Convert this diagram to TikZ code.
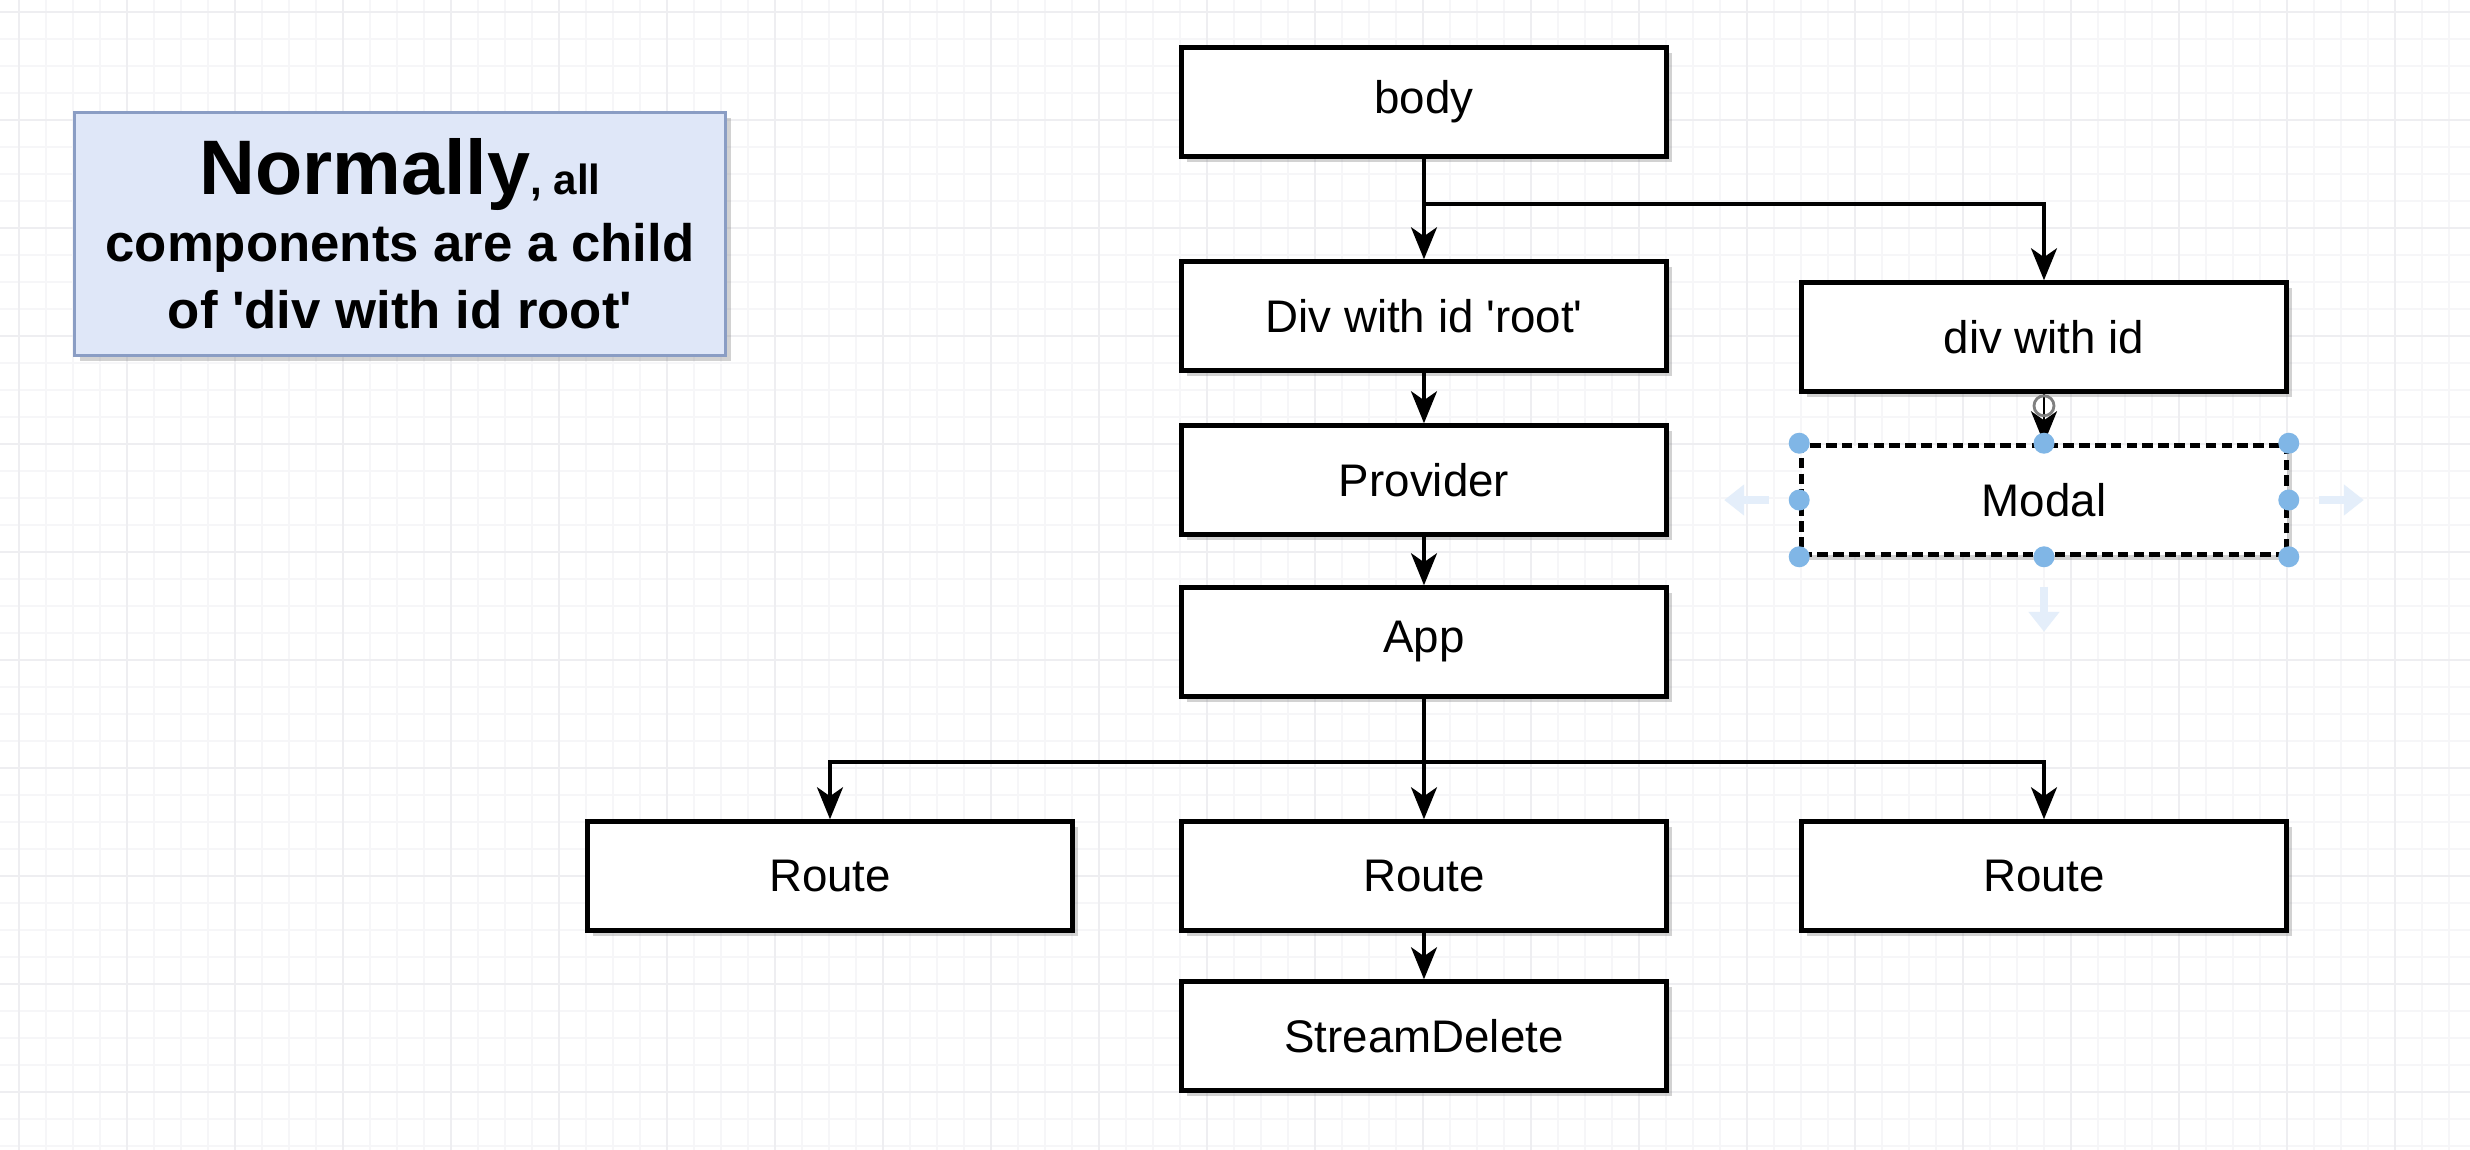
\documentclass[tikz,border=0pt]{standalone}
\usepackage{fontspec}
\setmainfont{Liberation Sans}[Ligatures=TeXOff]
\usetikzlibrary{arrows.meta,shadows}
\definecolor{rejilla}{HTML}{F6F6F8}
\definecolor{rejillaB}{HTML}{EEEEF1}
\definecolor{notafondo}{HTML}{DFE7F8}
\definecolor{notaborde}{HTML}{8A9DC4}
\definecolor{asa}{HTML}{80B6E6}
\definecolor{pista}{HTML}{E4EEFA}

\begin{document}
\begin{tikzpicture}[x=0.1mm,y=-0.1mm,
    comp/.style={draw,line width=1.3pt,fill=white,minimum width=48.5mm,minimum height=10.9mm,
                 inner sep=0pt,font=\fontsize{13}{15}\selectfont,
                 drop shadow={shadow xshift=0.5mm,shadow yshift=-0.5mm,opacity=0.35}},
    nota/.style={draw=notaborde,line width=1.1pt,fill=notafondo,minimum width=65.1mm,minimum height=24.3mm,
                 inner sep=0pt,align=center,font=\bfseries\fontsize{15}{19}\selectfont,
                 drop shadow={shadow xshift=0.5mm,shadow yshift=-0.5mm,opacity=0.35}},
    flecha/.style={-{Stealth[length=3.2mm,width=2.6mm,inset=0.9mm]},line width=1pt},
    asa/.style={circle,fill=asa,inner sep=0pt,minimum size=2.1mm}]
    %Fondo
    \fill[white] (0,0) rectangle (2470,1150);
    \useasboundingbox (0,0) rectangle (2470,1150);
    \foreach \gx in {19,46,...,2470} \draw[rejilla,line width=0.4pt] (\gx,0) -- (\gx,1150);
    \foreach \gy in {12,39,...,1150} \draw[rejilla,line width=0.4pt] (0,\gy) -- (2470,\gy);
    \foreach \gx in {19,127,...,2470} \draw[rejillaB,line width=0.5pt] (\gx,0) -- (\gx,1150);
    \foreach \gy in {12,120,...,1150} \draw[rejillaB,line width=0.5pt] (0,\gy) -- (2470,\gy);
    %Nota
    \node[nota] (nota) at (400,234) {{\fontsize{22}{24}\selectfont Normally}{\fontsize{12}{13}\selectfont, all}\\components are a child\\of 'div with id root'};
    %Arbol
    \node[comp] (body)   at (1424,102)  {body};
    \node[comp] (root)   at (1424,316)  {Div with id 'root'};
    \node[comp] (divid)  at (2044,337)  {div with id};
    \node[comp] (prov)   at (1424,480)  {Provider};
    \node[comp,dash pattern=on 3pt off 1.5pt] (modal) at (2044,500) {Modal};
    \node[comp] (app)    at (1424,642)  {App};
    \node[comp] (routeL) at (830,876)   {Route};
    \node[comp] (routeM) at (1424,876)  {Route};
    \node[comp] (routeR) at (2044,876)  {Route};
    \node[comp] (sdel)   at (1424,1036) {StreamDelete};
    %Conexiones
    \draw[flecha] (body.south) -- (root.north);
    \draw[flecha] (body.south) -- ++(0,45) -| (divid.north);
    \draw[flecha] (root.south) -- (prov.north);
    \draw[flecha] (prov.south) -- (app.north);
    \draw[flecha] (app.south) -- (routeM.north);
    \draw[flecha] (app.south) -- ++(0,63) -| (routeL.north);
    \draw[flecha] (app.south) -- ++(0,63) -| (routeR.north);
    \draw[flecha] (routeM.south) -- (sdel.north);
    \draw[flecha,line width=0.8pt] (divid.south) -- (modal.north);
    \draw[gray,line width=0.8pt] ([yshift=-1.2mm]divid.south) circle (10);
    %Seleccion
    \foreach \a in {north west,north,north east,west,east,south west,south,south east}
        \node[asa] at (modal.\a) {};
    \coordinate (hintL) at ([xshift=-3mm]modal.west);
    \coordinate (hintR) at ([xshift=3mm]modal.east);
    \coordinate (hintD) at ([yshift=-3mm]modal.south);
    \draw[pista,line width=2pt,-{Triangle[length=2mm,width=3mm]}] (hintL) -- ++(-45,0);
    \draw[pista,line width=2pt,-{Triangle[length=2mm,width=3mm]}] (hintR) -- ++(45,0);
    \draw[pista,line width=2pt,-{Triangle[length=2mm,width=3mm]}] (hintD) -- ++(0,45);
\end{tikzpicture}
\end{document}
